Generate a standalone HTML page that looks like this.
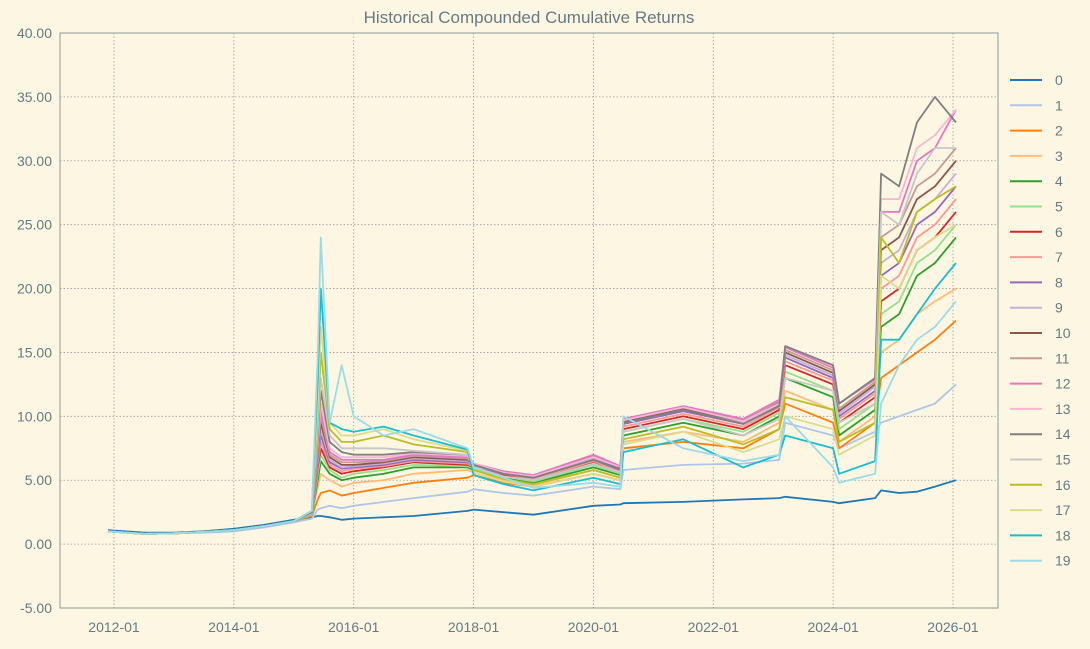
<!DOCTYPE html>
<html><head><meta charset="utf-8"><style>
body{margin:0;background:#fdf6e3;}
svg{display:block;font-family:"Liberation Sans",sans-serif;}
</style></head><body>
<svg id="chart" width="1090" height="649">
<rect width="1090" height="649" fill="#fdf6e3"/>
<text x="529" y="23" text-anchor="middle" font-size="17" fill="#657b83">Historical Compounded Cumulative Returns</text>
<g id="grid"></g><g id="lines"></g><g id="axes"></g><g id="legend"></g>
</svg>
<script>
const early=[2011.9,2012.5,2013,2013.5,2014,2014.5,2015];
const late=[2015.3,2015.4,2015.45,2015.6,2015.8,2016,2016.5,2017,2017.9,2018,2018.5,2019,2020,2020.45,2020.5,2021.5,2022.5,2023.1,2023.2,2024.0,2024.1,2024.7,2024.8,2025.1,2025.4,2025.7,2026.05];
const dates=early.concat(late);
const E=[1.0,0.8,0.85,0.95,1.1,1.4,1.8];
const s0=[1.1,0.9,0.9,1.0,1.2,1.5,1.9,2.1,2.2,2.2,2.1,1.9,2.0,2.1,2.2,2.6,2.7,2.5,2.3,3.0,3.1,3.2,3.3,3.5,3.6,3.7,3.3,3.6,4.2,4.0,4.1,4.5,5.0];
const s1=[1.0,0.8,0.85,0.9,1.0,1.3,1.7,2.0,2.7,2.8,3.0,2.8,3.0,3.3,3.6,4.1,4.3,4.0,3.8,4.5,4.3,5.8,6.2,6.3,6.6,9.5,8.5,8.8,9.5,10,10.5,11,12.5];
const s2=E.concat([2.2,3.5,4.0,4.2,3.8,4.0,4.4,4.8,5.2,5.4,4.8,4.5,5.5,5.0,7.5,8.0,7.5,9.0,11.0,9.5,9.5,13,14,15,16,17.5]);
const s3=E.concat([2.3,4.5,5.5,5.0,4.5,4.8,5.0,5.5,5.8,5.6,5.0,4.6,5.8,5.2,8.0,8.8,8.0,9.5,12.0,10.5,10.0,15,16,18,19,20]);
const s4=E.concat([2.3,5.0,6.5,5.5,5.0,5.2,5.5,6.0,6.0,5.8,5.2,4.8,6.0,5.4,8.5,9.5,8.5,10,13,11.5,10.5,17,18,21,22,24]);
const s5=E.concat([2.3,5.5,7.0,5.8,5.2,5.5,5.8,6.2,6.1,5.9,5.3,4.9,6.2,5.5,8.8,9.8,8.8,10.3,13.5,12,11,18,19,22,23,25]);
const s6=E.concat([2.4,6.0,7.5,6.0,5.5,5.7,6.0,6.4,6.2,6.0,5.4,5.0,6.4,5.6,9.0,10,9.0,10.5,14,12.5,11.5,19,20,23,24,26]);
const s7=E.concat([2.4,6.3,8.0,6.2,5.7,5.9,6.1,6.5,6.3,6.0,5.5,5.1,6.5,5.7,9.2,10.2,9.2,10.7,14.3,12.8,11.8,20,21,24,25,27]);
const s8=E.concat([2.4,6.6,8.5,6.4,5.9,6.0,6.2,6.6,6.4,6.1,5.5,5.2,6.6,5.8,9.4,10.4,9.4,10.9,14.6,13,12,21,22,25,26,28]);
const s9=E.concat([2.4,6.9,9.0,6.6,6.0,6.1,6.3,6.7,6.5,6.1,5.6,5.3,6.7,5.9,9.5,10.5,9.5,11,14.8,13.2,12.3,22,23,26,27,29]);
const s10=E.concat([2.5,7.2,9.5,6.8,6.2,6.2,6.4,6.8,6.6,6.2,5.6,5.3,6.8,6.0,9.6,10.6,9.6,11.1,15,13.4,12.5,23,24,27,28,30]);
const s11=E.concat([2.5,7.5,10,7.0,6.4,6.4,6.5,6.9,6.7,6.2,5.7,5.4,6.9,6.0,9.7,10.7,9.7,11.2,15.2,13.6,12.7,24,25,28,29,31]);
const s12=E.concat([2.5,7.8,10.5,7.2,6.6,6.6,6.6,7.0,6.8,6.3,5.7,5.4,7.0,6.1,9.8,10.8,9.8,11.3,15.4,13.8,12.9,26,26,30,31,34]);
const s13=E.concat([2.5,8.1,11,7.5,6.8,6.8,6.8,7.1,6.9,6.3,5.6,5.3,6.8,6.0,9.7,10.7,9.6,11.0,15.5,14,13,27,27,31,32,34]);
const s14=E.concat([2.5,8.5,12,8.0,7.2,7.0,7.0,7.2,7.0,6.2,5.5,5.2,6.6,5.9,9.5,10.5,9.4,10.8,15.5,14,13,29,28,33,35,33]);
const s15=E.concat([2.6,9,13,8.5,7.5,7.5,7.5,7.3,7.0,6.0,5.3,5.0,6.3,5.6,8.8,9.8,8.5,9.8,13,12,11,26,25,29,31,31]);
const s16=E.concat([2.6,10,15,9,8,8,8.5,7.8,7.2,5.8,5.1,4.7,5.8,5.2,8.2,9.2,7.8,9.0,11.5,10.5,9.5,24,22,26,27,28]);
const s17=E.concat([2.6,11,17,9.5,8.5,8.5,9.0,8.2,7.3,5.6,4.9,4.5,5.5,5.0,7.8,8.8,7.2,8.2,10,9.0,8.5,21,20,23,24,25]);
const s18=E.concat([2.6,13,20,9.5,9.0,8.8,9.2,8.5,7.4,5.4,4.7,4.2,5.2,4.7,7.2,8.2,6.0,7.0,8.5,7.5,6.5,16,16,18,20,22]);
const s19=E.concat([2.6,15,24,9.5,14,10,8.5,9,7.5,6.0,5.2,4.4,4.8,4.5,10,7.5,6.5,7,10,6,5.5,11,14,16,17,19]);
const dip2024=[3.2,7.5,7.5,8,8.5,9,9.5,9.8,10,10.2,10.4,10.6,11,11,11,9.5,8,7,5.5,4.8];
const series=[s0,s1,s2,s3,s4,s5,s6,s7,s8,s9,s10,s11,s12,s13,s14,s15,s16,s17,s18,s19];
series.forEach((s,i)=>s.splice(27,0,dip2024[i]));
const labels=["0","1","2","3","4","5","6","7","8","9","10","11","12","13","14","15","16","17","18","19"];
const yTicks=[-5,0,5,10,15,20,25,30,35,40];
const xTicks=[2012,2014,2016,2018,2020,2022,2024,2026];
const colors=["#1f77b4","#aec7e8","#ff7f0e","#ffbb78","#2ca02c","#98df8a","#d62728","#ff9896","#9467bd","#c5b0d5","#8c564b","#c49c94","#e377c2","#f7b6d2","#7f7f7f","#c7c7c7","#bcbd22","#dbdb8d","#17becf","#9edae5"];
const L=60,R=998,T=33,B=608;
const x=v=>114+(v-2012)*(953-114)/14;
const y=v=>B-(v+5)*(B-T)/45;
const NS="http://www.w3.org/2000/svg";
function mk(tag,attrs,parent){const e=document.createElementNS(NS,tag);for(const k in attrs)e.setAttribute(k,attrs[k]);parent.appendChild(e);return e;}
const grid=document.getElementById('grid'),axes=document.getElementById('axes'),lines=document.getElementById('lines'),legend=document.getElementById('legend');
yTicks.forEach(t=>{
 const g=mk('line',{x1:L,x2:R,y1:y(t),y2:y(t),stroke:'#9a9a9a','stroke-width':0.8,'stroke-dasharray':'1.5,2'},grid);
 
 
 const tx=mk('text',{x:L-8,y:y(t)+5,'text-anchor':'end','font-size':14,fill:'#657b83'},axes);
 tx.textContent=t.toFixed(2);
 
 
});
xTicks.forEach(t=>{
 const g=mk('line',{x1:x(t),x2:x(t),y1:T,y2:B,stroke:'#9a9a9a','stroke-width':0.8,'stroke-dasharray':'1.5,2'},grid);
 
 
 const tx=mk('text',{x:x(t),y:B+24,'text-anchor':'middle','font-size':14,fill:'#657b83'},axes);
 tx.textContent=t+'-01';
 
 
});
const frame=mk('rect',{x:L,y:T,width:R-L,height:B-T,fill:'none',stroke:'#8a9a9f','stroke-width':1},axes);


series.forEach((s,i)=>{
 const d=s.map((v,j)=>(j?'L':'M')+x(dates[j]).toFixed(1)+','+y(v).toFixed(1)).join('');
 const p=mk('path',{d:d,fill:'none',stroke:colors[i],'stroke-width':1.8,'stroke-linejoin':'round'},lines);
 
 
 const ly=80+i*25.3;
 const ll=mk('line',{x1:1010,x2:1042,y1:ly,y2:ly,stroke:colors[i],'stroke-width':2},legend);
 
 
 const lt=mk('text',{x:1055,y:ly+5,'font-size':14,fill:'#657b83'},legend);
 lt.textContent=labels[i];
 
 
});
</script>
</body></html>
